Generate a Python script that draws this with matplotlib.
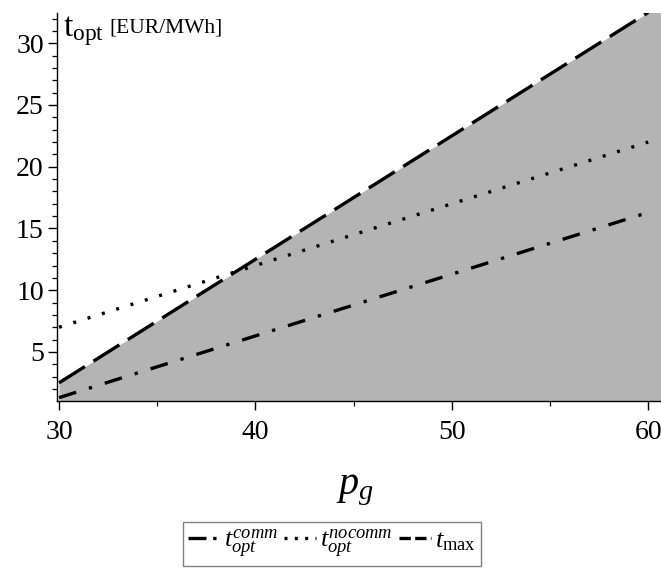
import matplotlib
matplotlib.use("Agg")
import matplotlib.pyplot as plt
from matplotlib.ticker import MultipleLocator
from matplotlib.lines import Line2D

plt.rcParams['font.family'] = ['Liberation Serif', 'DejaVu Serif']
plt.rcParams['mathtext.fontset'] = 'custom'
plt.rcParams['mathtext.rm'] = 'Liberation Serif'
plt.rcParams['mathtext.it'] = 'Liberation Serif:italic'
plt.rcParams['mathtext.bf'] = 'Liberation Serif:bold'

# gas price p_g and the resulting tariffs
p_g = [30, 40, 50, 60]
t_opt_comm = [1.3, 6.3, 11.3, 16.3]
t_opt_nocomm = [7.0, 12.0, 17.0, 22.0]
t_max = [2.5, 12.5, 22.5, 32.5]

x_ticks = [30, 40, 50, 60]
y_ticks = [5, 10, 15, 20, 25, 30]

fig = plt.figure(figsize=(6.61, 5.71), dpi=100)
ax = fig.add_axes([57 / 661, 1 - 401 / 571, 1 - 57 / 661, (401 - 13) / 571])

xmin, xmax = 29.9, 60.65
ymin, ymax = 1.03, 32.45

# feasible region below t_max, carried to the right edge of the plot
ax.fill_between(p_g + [xmax], t_max + [t_max[-1]], ymin - 1,
                color='#b4b4b4', lw=0, zorder=1)

lw = 2.4
ax.plot(p_g, t_opt_comm, color='black', lw=lw, dashes=(5.4, 4.0, 1.0, 4.0), zorder=3)
ax.plot(p_g, t_opt_nocomm, color='black', lw=lw, dashes=(0.9, 3.6), zorder=3)
ax.plot(p_g, t_max, color='black', lw=lw, dashes=(9.2, 3.0), zorder=3)

ax.set_xlim(xmin, xmax)
ax.set_ylim(ymin, ymax)

for s in ('top', 'right'):
    ax.spines[s].set_visible(False)
for s in ('left', 'bottom'):
    ax.spines[s].set_linewidth(1.0)

ax.set_xticks(x_ticks)
ax.set_yticks(y_ticks)
ax.xaxis.set_minor_locator(MultipleLocator(5))
ax.yaxis.set_minor_locator(MultipleLocator(1))
ax.tick_params(which='major', length=6.5, width=1.0, labelsize=20, direction='out')
ax.tick_params(which='minor', length=3.6, width=0.9, direction='out')
ax.tick_params(axis='x', which='major', pad=7)
ax.tick_params(axis='y', which='major', pad=3)

# axis titles
fig.text(63 / 661, 1 - 36 / 571, r'$\mathrm{t}_{\mathrm{opt}}$', fontsize=24,
         ha='left', va='baseline')
fig.text(109 / 661, 1 - 32 / 571, '[EUR/MWh]', fontsize=15.5, ha='left', va='baseline')
fig.text(355 / 661, 1 - 494 / 571, r'$p_g$', fontsize=29, ha='center', va='baseline')

handles = [
    Line2D([], [], color='black', lw=lw, dashes=(5.4, 2.0, 1.0, 2.0)),
    Line2D([], [], color='black', lw=lw, dashes=(0.9, 2.2)),
    Line2D([], [], color='black', lw=lw, dashes=(3.4, 1.3)),
]
labels = [r'$t_{opt}^{comm}$', r'$t_{opt}^{nocomm}$', r'$t_{\mathrm{max}}$']
leg = fig.legend(handles, labels, loc='center', bbox_to_anchor=(332 / 661, 1 - 544 / 571),
                 ncol=3, fontsize=19, handlelength=1.2, handletextpad=0.15,
                 columnspacing=0.25, borderpad=0.2, fancybox=False, framealpha=1,
                 edgecolor='#808080')
leg.get_frame().set_linewidth(1.0)

fig.savefig('out.png', dpi=100)
